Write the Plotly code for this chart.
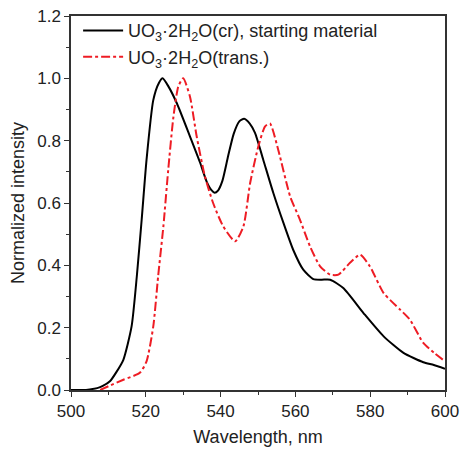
import plotly.graph_objects as go

# Black: UO3·2H2O(cr), starting material
wl_cr = [500, 503, 505, 507, 508.5, 510.4, 512, 514, 516.2, 517.6, 518.9, 520.2, 522, 523.5, 524.5,
         526, 528.3, 531.8, 534.5, 536.3, 537.5, 538.4, 539.3, 540.5, 542.0, 543.5, 545.0, 546.3, 547.8,
         549.2, 551.4, 554.1, 556.8, 559.4, 562.1, 564.8, 567, 569.3, 572.8, 578.2, 583.6, 588.9, 594.2,
         597, 600]
int_cr = [0.0, 0.0, 0.002, 0.006, 0.013, 0.028, 0.055, 0.097, 0.204, 0.365, 0.547, 0.739, 0.93, 0.985, 1.0,
          0.975, 0.92, 0.814, 0.73, 0.668, 0.642, 0.633, 0.64, 0.672, 0.75, 0.822, 0.862, 0.87, 0.855,
          0.825, 0.739, 0.632, 0.536, 0.45, 0.386, 0.356, 0.354, 0.354, 0.327, 0.247, 0.172, 0.119, 0.089,
          0.08, 0.068]

# Red dash-dot: UO3·2H2O(trans.)
wl_tr = [507.8, 510, 514, 518.4, 520.2, 522, 523.3, 524.7, 526, 527.4, 528.7, 530.0, 531.8, 533.6,
         535.8, 538, 540.7, 543.9, 546.1, 547.9, 550.1, 551.9, 553.2, 555.4, 558.6, 561.2, 563.9,
         566.6, 569.3, 571.5, 574.6, 577.3, 579.9, 583.6, 588, 590.6, 594.2, 597, 600]
int_tr = [0.0, 0.012, 0.033, 0.055, 0.092, 0.204, 0.365, 0.525, 0.707, 0.878, 0.974, 1.0, 0.942, 0.814,
          0.686, 0.6, 0.525, 0.477, 0.525, 0.664, 0.782, 0.846, 0.855, 0.771, 0.621, 0.547, 0.461,
          0.397, 0.37, 0.37, 0.408, 0.434, 0.397, 0.311, 0.258, 0.226, 0.151, 0.12, 0.092]

x_ticks = [500, 520, 540, 560, 580, 600]
y_ticks = [0.0, 0.2, 0.4, 0.6, 0.8, 1.0, 1.2]

fig = go.Figure()
fig.add_trace(go.Scatter(x=wl_cr, y=int_cr, mode="lines", line=dict(color="black", width=2, shape="spline", smoothing=0.6),
                         name="UO<sub>3</sub>·2H<sub>2</sub>O(cr), starting material"))
fig.add_trace(go.Scatter(x=wl_tr, y=int_tr, mode="lines", line=dict(color="#ee1c24", width=2, dash="dashdot", shape="spline", smoothing=0.6),
                         name="UO<sub>3</sub>·2H<sub>2</sub>O(trans.)"))

axis_common = dict(showgrid=False, zeroline=False, showline=True, linecolor="#333", linewidth=1.5,
                   mirror=True, ticks="outside", ticklen=5, tickwidth=1.2, tickcolor="#333",
                   tickfont=dict(size=17, color="#222"), automargin=False)
fig.update_layout(
    width=461, height=451,
    margin=dict(l=71, r=16, t=16, b=61),
    paper_bgcolor="white", plot_bgcolor="white",
    font=dict(family="Liberation Sans, Arial, sans-serif", color="#222"),
    xaxis=dict(range=[500, 600], tickvals=x_ticks, ticktext=[str(v) for v in x_ticks],
               minor=dict(dtick=10, ticks="outside", ticklen=3, tickcolor="#333"),
               title=dict(text="Wavelength, nm", font=dict(size=18), standoff=10), **axis_common),
    yaxis=dict(range=[0, 1.2], tickvals=y_ticks, ticktext=[f"{v:.1f}" for v in y_ticks],
               minor=dict(dtick=0.1, ticks="outside", ticklen=3, tickcolor="#333"),
               title=dict(text="Normalized intensity", font=dict(size=18), standoff=8), **axis_common),
    legend=dict(x=0.019, y=1.01, xanchor="left", yanchor="top", bgcolor="rgba(0,0,0,0)",
                font=dict(size=18, color="#222"), tracegroupgap=0, itemwidth=40),
    showlegend=True,
)
fig.write_html("out.html", config={"displayModeBar": False},
               post_script="document.body.style.margin='0';document.body.style.overflow='hidden';")
